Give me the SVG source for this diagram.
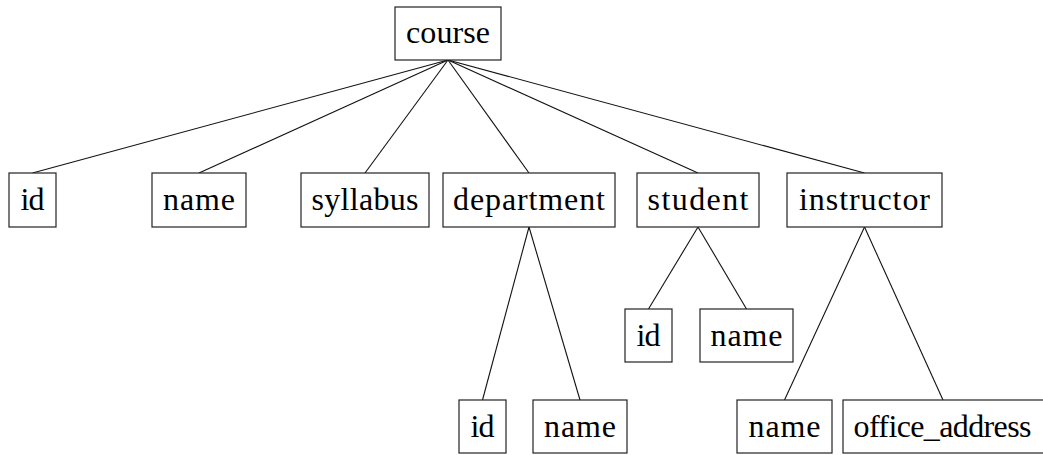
<svg xmlns="http://www.w3.org/2000/svg" width="1043" height="455" viewBox="0 0 1043 455">
<style>
rect{fill:#fff;stroke:#222;stroke-width:1.2}
.e line{stroke:#111;stroke-width:1.1}
</style>
<rect x="0" y="0" width="1043" height="455" style="fill:#fff;stroke:none"/>
<g class="e" id="connectors">
<line x1="448" y1="60" x2="32.5" y2="173"/>
<line x1="448" y1="60" x2="199" y2="173"/>
<line x1="448" y1="60" x2="365" y2="173"/>
<line x1="448" y1="60" x2="529" y2="173"/>
<line x1="448" y1="60" x2="698" y2="173"/>
<line x1="448" y1="60" x2="864.5" y2="173"/>
<line x1="529" y1="227" x2="482.5" y2="400"/>
<line x1="529" y1="227" x2="580" y2="400"/>
<line x1="698" y1="227" x2="648.5" y2="309"/>
<line x1="698" y1="227" x2="746.5" y2="309"/>
<line x1="864.5" y1="227" x2="784.5" y2="400"/>
<line x1="864.5" y1="227" x2="943" y2="400"/>
</g>
<g font-family="'Liberation Serif'" font-size="32" fill="#000" text-anchor="middle">
<g id="course"><rect x="395" y="7" width="106" height="53"/><text x="448" y="43" textLength="84">course</text></g>
<g id="id"><rect x="9" y="173" width="47" height="54"/><text x="32.5" y="210" textLength="24">id</text></g>
<g id="name"><rect x="152" y="173" width="94" height="54"/><text x="199" y="210" textLength="72">name</text></g>
<g id="syllabus"><rect x="301" y="173" width="128" height="54"/><text x="365" y="210" textLength="107">syllabus</text></g>
<g id="department"><rect x="443" y="173" width="172" height="54"/><text x="529" y="210" textLength="152">department</text></g>
<g id="student"><rect x="637" y="173" width="122" height="54"/><text x="698" y="210" textLength="101">student</text></g>
<g id="instructor"><rect x="787" y="173" width="155" height="54"/><text x="864.5" y="210" textLength="131">instructor</text></g>
<g id="student_id"><rect x="625" y="309" width="47" height="53"/><text x="648.5" y="346" textLength="24">id</text></g>
<g id="student_name"><rect x="700" y="309" width="93" height="53"/><text x="746.5" y="346" textLength="72">name</text></g>
<g id="department_id"><rect x="459" y="400" width="47" height="53"/><text x="482.5" y="437" textLength="24">id</text></g>
<g id="department_name"><rect x="533" y="400" width="94" height="53"/><text x="580" y="437" textLength="72">name</text></g>
<g id="instructor_name"><rect x="737" y="400" width="95" height="53"/><text x="784.5" y="437" textLength="72">name</text></g>
<g id="office_address"><rect x="843" y="400" width="201" height="53"/><text x="942.5" y="437" textLength="178">office_address</text></g>
</g>
</svg>
